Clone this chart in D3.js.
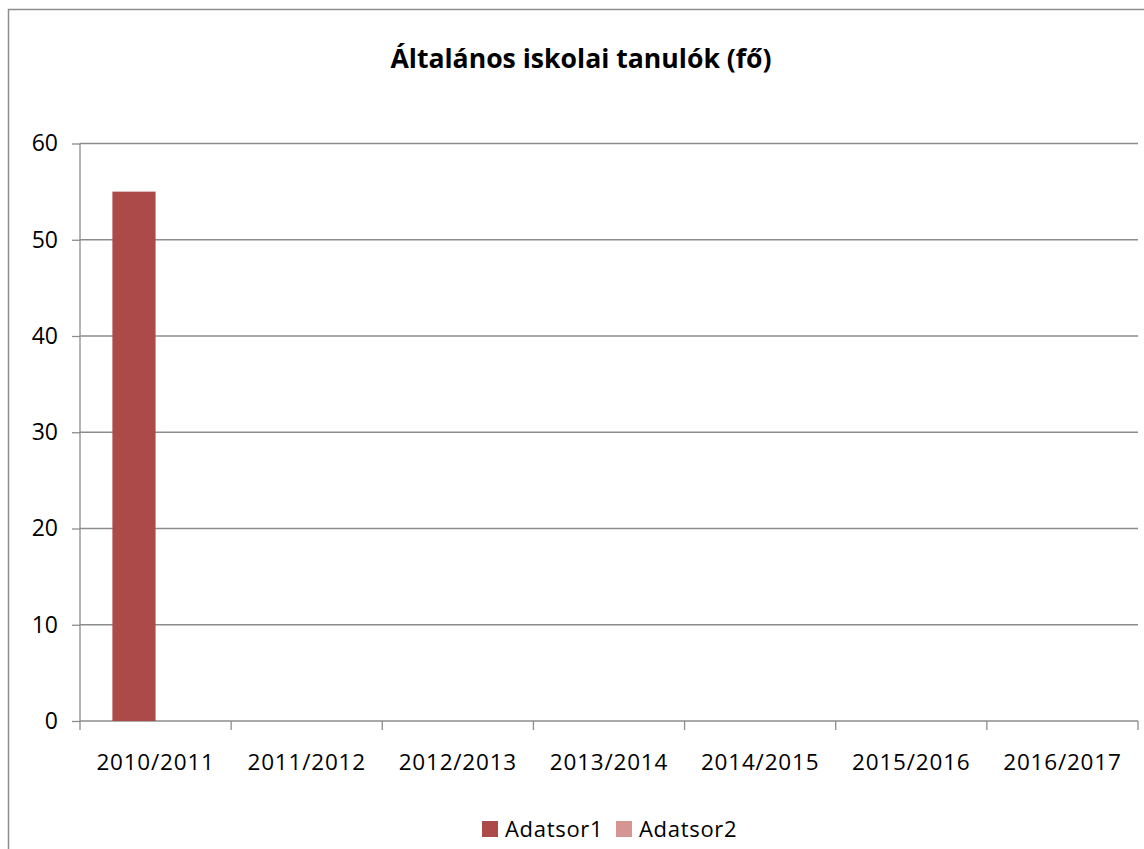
<!DOCTYPE html>
<html>
<head>
<meta charset="utf-8">
<script src="https://cdn.jsdelivr.net/npm/d3@7"></script>
<style>
  body { margin: 0; background: #fff; }
  text { font-family: "Open Sans", "Noto Sans", sans-serif; fill: #000; }
</style>
</head>
<body>
<script>
// chart data
const categories = ["2010/2011", "2011/2012", "2012/2013", "2013/2014", "2014/2015", "2015/2016", "2016/2017"];
const seriesNames = ["Adatsor1", "Adatsor2"];
const adatsor1 = [55, null, null, null, null, null, null];
const adatsor2 = [null, null, null, null, null, null, null];
const yTicks = [0, 10, 20, 30, 40, 50, 60];
const colors = ["#ab4a48", "#d49593"];

document.addEventListener("DOMContentLoaded", function() {

    const svg = d3.select("body").append("svg")
        .attr("width", 1144)
        .attr("height", 849);

    // chart border (runs past the right and bottom edge, like the original)
    svg.append("rect")
        .attr("x", 8.5).attr("y", 9.5)
        .attr("width", 1200).attr("height", 900)
        .attr("fill", "none")
        .attr("stroke", "#8e8e8e")
        .attr("stroke-width", 1.5);

    svg.append("text")
        .attr("x", 581)
        .attr("y", 68)
        .attr("text-anchor", "middle")
        .style("font-size", "26.6px")
        .style("font-weight", "bold")
        .text("Általános iskolai tanulók (fő)");

    const left = 80, right = 1138, top = 143.5, bottom = 721;

    const x = d3.scaleBand()
        .domain(categories)
        .range([left, right])
        .padding(0);

    const y = d3.scaleLinear()
        .domain([0, 60])
        .range([bottom, top]);

    // gridlines
    svg.append("g")
        .selectAll("line")
        .data(yTicks.filter(d => d > 0))
        .enter().append("line")
        .attr("x1", left).attr("x2", right)
        .attr("y1", d => y(d)).attr("y2", d => y(d))
        .attr("stroke", "#8c8c8c")
        .attr("stroke-width", 1.3);

    // y axis
    const yAxis = svg.append("g")
        .attr("transform", `translate(${left},0)`)
        .call(d3.axisLeft(y).tickValues(yTicks).tickSize(8).tickPadding(14));
    yAxis.selectAll("line, path").attr("stroke", "#8c8c8c").attr("stroke-width", 1.3);
    yAxis.select(".domain").attr("d", `M0,${top}V${bottom}`);
    yAxis.selectAll("text")
        .style("font-size", "23px")
        .style("font-family", "'Open Sans', sans-serif")
        .attr("fill", "#000");

    // x axis with ticks on category boundaries
    const xg = svg.append("g");
    xg.append("line")
        .attr("x1", left).attr("x2", right)
        .attr("y1", bottom).attr("y2", bottom)
        .attr("stroke", "#8c8c8c").attr("stroke-width", 1.3);
    const bounds = categories.map(c => x(c)).concat([x(categories[categories.length - 1]) + x.bandwidth()]);
    xg.selectAll(".tick")
        .data(bounds)
        .enter().append("line")
        .attr("x1", d => d).attr("x2", d => d)
        .attr("y1", bottom).attr("y2", bottom + 9)
        .attr("stroke", "#8c8c8c").attr("stroke-width", 1.3);
    xg.selectAll("text")
        .data(categories)
        .enter().append("text")
        .attr("x", d => x(d) + x.bandwidth() / 2)
        .attr("y", 770)
        .attr("text-anchor", "middle")
        .style("font-size", "22.5px")
        .style("letter-spacing", "0.8px")
        .text(d => d);

    // bars: two series, gap width 150%
    const barW = x.bandwidth() / 3.5;
    [adatsor1, adatsor2].forEach((vals, si) => {
        svg.append("g")
            .selectAll("rect")
            .data(vals.map((v, i) => ({ cat: categories[i], v: v })).filter(d => d.v != null))
            .enter().append("rect")
            .attr("x", d => x(d.cat) + barW * (0.75 + si))
            .attr("width", barW)
            .attr("y", d => y(d.v))
            .attr("height", d => bottom - y(d.v))
            .attr("fill", colors[si]);
    });

    // legend
    const legendX = [482, 616];
    const legend = svg.append("g");
    seriesNames.forEach((name, i) => {
        legend.append("rect")
            .attr("x", legendX[i]).attr("y", 821)
            .attr("width", 16).attr("height", 16)
            .attr("fill", colors[i]);
        legend.append("text")
            .attr("x", legendX[i] + 23).attr("y", 837)
            .style("font-size", "22px")
            .style("letter-spacing", "0.7px")
            .text(name);
    });
});
</script>
</body>
</html>
